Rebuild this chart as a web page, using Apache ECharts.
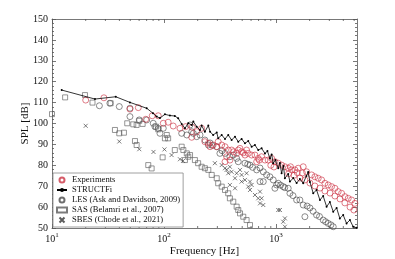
<!DOCTYPE html>
<html><head><meta charset="utf-8">
<script src="https://cdn.jsdelivr.net/npm/echarts@6/dist/echarts.min.js"></script>
<style>html,body{margin:0;padding:0;background:#fff}#c{width:395px;height:259px}</style>
</head><body><div id="c"></div>
<script>
// ---- data (frequency in Hz, SPL in dB) ----
const expFreq = [20.0,29.1,49.7,59.0,68.7,78.6,88.9,98.6,109,121,139,156,179,177,196,217,232,249,258,275,296,305,328,351,375,363,402,420,446,461,477,494,512,529,547,566,607,650,695,710,745,798,853,916,980,1049,1124,1203,1288,1380,1350,1479,1582,1753,1880,2083,2229,2387,2558,2739,2930,3141,3365,3600,3861,4130,4425,4742,5075,1641,1724,1815,2013,2229,2477,2739,3043,3365,3738,4130,4592,4970,351,388,673,900,960,1300,1450,1550];
const expSPL  = [111.2,112.3,106.9,107.6,102.0,103.7,103.7,100.1,100.6,98.8,97.7,98.5,98.2,93.4,96.1,97.7,91.3,90.5,88.9,89.7,88.9,91.3,89.7,88.9,87.3,84.1,87.3,86.5,85.7,87.3,88.1,86.5,86.0,84.9,87.3,85.7,84.9,84.9,83.3,82.5,84.1,82.5,82.5,83.3,81.7,81.0,80.1,79.3,78.6,77.8,79.3,77.8,78.6,79.3,76.9,75.4,74.5,73.8,73.0,71.4,70.6,69.8,69.0,67.4,66.6,65.0,64.2,63.4,61.8,73.9,76.3,73.0,71.5,70.1,69.1,67.7,66.7,65.3,63.9,62.0,60.0,58.6,81.7,82.5,81.7,80.0,79.2,76.0,75.2,76.5];

const strFreq = [12.2,24.2,37.1,49.7,70.1,79.8,86.1,92.1,102,113,125,134,144,154,165,177,183,196,210,217,232,249,258,275,296,305,328,351,375,402,431,461,494,529,566,607,650,695,745,798,840,884,916,946,990,1049,1086,1124,1167,1203,1288,1334,1429,1531,1637,1753,1871,1942,2013,2154,2307,2472,2644,2836,3034,3251,3484,3724,3990,4276,4581,4899,5260];
const strSPL  = [116.0,111.7,112.8,110.1,107.3,104.9,103.3,102.6,104.4,103.8,103.6,102.5,99.8,97.7,100.1,99.3,100.9,98.5,96.9,99.0,96.1,99.0,96.1,94.5,95.7,92.9,94.5,92.6,94.5,92.1,93.7,91.3,92.6,90.5,91.6,88.9,89.7,87.3,88.1,85.7,86.8,83.3,85.2,81.0,82.5,78.6,81.1,76.2,79.7,73.8,75.8,72.2,73.9,71.5,73.4,71.4,74.9,76.8,72.0,66.6,68.2,63.4,65.3,60.2,62.4,57.8,59.6,54.6,56.2,52.2,53.8,50.6,50.1];

const lesFreq = [26.5,32.9,39.9,49.7,49.7,60.2,70.1,80.2,83.1,88.9,92.1,98.6,144,160,171,177,183,196,210,232,249,258,270,296,316,330,351,388,416,446,461,529,560,587,620,673,721,771,826,884,946,1014,1049,1100,1162,1200,1288,1334,1420,1531,1637,1753,1900,2013,2150,2307,2450,2644,2780,2930,3100,3251,721,771,1815,980];
const lesSPL  = [108.5,109.7,108.1,107.3,103.3,101.7,101.7,100.1,98.5,97.7,95.3,97.7,95.3,94.5,99.3,96.1,95.3,93.7,94.5,92.1,89.7,90.7,89.5,88.9,85.7,87.0,85.7,84.1,84.9,83.3,81.7,81.0,80.5,80.1,79.0,77.8,78.7,76.9,75.4,74.5,73.0,70.6,71.4,70.5,69.8,69.3,69.0,66.6,65.5,63.4,63.4,61.0,60.5,59.6,58.0,56.2,55.5,53.8,53.0,52.2,51.5,50.6,72.2,72.2,55.4,69.0];

const sasFreq = [10,13.1,19.7,23.0,33.4,36.5,39.9,43.9,47.0,53.2,57.0,60.2,64.5,55.1,57.0,72.4,77.6,84.8,88.9,97.3,102,109,106,125,144,149,160,165,154,171,189,202,217,232,249,267,296,305,328,351,375,388,416,446,461,478,511,547,587];
const sasSPL  = [104.5,112.5,113.6,110.0,109.7,96.9,95.3,95.6,100.1,99.6,99.3,101.3,99.8,91.6,89.7,80.1,78.5,98.5,97.2,83.8,92.9,92.9,94.5,87.3,88.9,87.3,85.7,84.1,82.5,84.9,82.5,81.0,79.3,78.6,77.8,75.4,73.8,71.4,69.8,68.2,66.6,64.2,62.6,60.2,58.6,57.0,55.4,53.8,51.4];

const sbesFreq = [20.0,39.9,60.2,80.6,101,117,139,148,285,328,363,388,351,375,402,431,446,478,494,547,494,529,587,566,607,587,650,695,721,745,721,771,1049,1086,1162,1203,1203,388,431];
const sbesSPL  = [98.9,91.4,87.7,86.4,87.6,84.9,82.9,82.1,81.0,80.1,77.8,79.3,78.6,76.2,76.9,73.8,76.2,77.8,75.4,76.2,72.2,73.0,72.2,69.8,70.6,68.2,65.8,64.2,67.4,64.2,61.8,61.0,58.6,58.6,53.0,54.6,50.6,70.6,69.0];

const xMajorTicks = [10,100,1000];
const xMinorTicks = [20,30,40,50,60,70,80,90,200,300,400,500,600,700,800,900,2000,3000,4000,5000];
const seriesNames = ['Experiments','STRUCTFi','LES (Ask and Davidson, 2009)','SAS (Belamri et al., 2007)','SBES (Chode et al., 2021)'];

const FONT = 'Liberation Serif';
const AX = '#555';
const zip = (a,b) => a.map((v,i)=>[v,b[i]]);

const chart = echarts.init(document.getElementById('c'), null, {renderer:'canvas'});
const xCommon = {type:'log', logBase:10, min:10, max:5300, splitLine:{show:false},
  axisLine:{show:true,onZero:false,lineStyle:{color:AX,width:0.8}},
  axisTick:{show:true,inside:true,length:4,customValues:xMajorTicks,lineStyle:{color:AX,width:0.8}}};
const yCommon = {type:'value', min:50, max:150, interval:10, splitLine:{show:false},
  axisLine:{show:true,onZero:false,lineStyle:{color:AX,width:0.8}},
  axisTick:{show:true,inside:true,length:4,lineStyle:{color:AX,width:0.8}},
  minorTick:{show:true,splitNumber:5,length:2,lineStyle:{color:AX,width:0.8}}};

chart.setOption({
  animation:false,
  textStyle:{fontFamily:FONT},
  grid:{left:52,top:19,right:38,bottom:31,containLabel:false,outerBoundsMode:'none'},
  xAxis:[
    Object.assign({}, xCommon, {position:'bottom', name:'Frequency [Hz]', nameLocation:'middle', nameGap:18, nameMoveOverlap:false,
      nameTextStyle:{fontFamily:FONT,fontSize:11,color:'#111',verticalAlign:'top'},
      axisLabel:{margin:4, color:'#111', fontFamily:FONT, fontSize:10, customValues:xMajorTicks,
        formatter:function(v){const e=Math.round(Math.log10(v)); return '{b|10}{e|'+e+'}';},
        rich:{b:{fontFamily:FONT,fontSize:10,color:'#111'}, e:{fontFamily:FONT,fontSize:7,color:'#111',padding:[0,0,7,0]}}}}),
    Object.assign({}, xCommon, {position:'top', axisLabel:{show:false}})
  ],
  yAxis:[
    Object.assign({}, yCommon, {position:'left', name:'SPL [dB]', nameLocation:'middle', nameGap:21, nameRotate:90, nameMoveOverlap:false,
      nameTextStyle:{fontFamily:FONT,fontSize:11,color:'#111'},
      axisLabel:{margin:4, color:'#111', fontFamily:FONT, fontSize:10}}),
    Object.assign({}, yCommon, {position:'right', axisLabel:{show:false}})
  ],
  legend:{
    data:seriesNames, orient:'vertical', left:53, top:173, padding:[2,3,2,3], itemGap:0,
    itemWidth:10, itemHeight:5, backgroundColor:'#fff', borderColor:'#888', borderWidth:0.8, borderRadius:0,
    textStyle:{fontFamily:FONT,fontSize:8.6,color:'#111',lineHeight:10}
  },
  series:[
    {type:'custom', silent:true, clip:false, xAxisIndex:0, yAxisIndex:0, z:1,
      data:xMinorTicks.map(v=>[v,50]),
      renderItem:function(params,api){
        const v=api.value(0); const b=api.coord([v,50]); const t=api.coord([v,150]);
        return {type:'group',children:[
          {type:'line',shape:{x1:b[0],y1:b[1],x2:b[0],y2:b[1]-2},style:{stroke:AX,lineWidth:0.8}},
          {type:'line',shape:{x1:t[0],y1:t[1],x2:t[0],y2:t[1]+2},style:{stroke:AX,lineWidth:0.8}}]};
      }},
    {name:seriesNames[2], type:'scatter', data:zip(lesFreq,lesSPL), symbol:'circle', symbolSize:6, z:2,
      itemStyle:{color:'rgba(0,0,0,0)', borderColor:'#4a4a4a', borderWidth:0.8}},
    {name:seriesNames[3], type:'scatter', data:zip(sasFreq,sasSPL), symbol:'rect', symbolSize:5, z:2,
      itemStyle:{color:'rgba(0,0,0,0)', borderColor:'#5a5a5a', borderWidth:0.8}},
    {name:seriesNames[4], type:'scatter', data:zip(sbesFreq,sbesSPL), symbol:'path://M0,0L10,10M0,10L10,0', symbolSize:4, z:2,
      itemStyle:{color:'none', borderColor:'#333', borderWidth:0.8}},
    {name:seriesNames[0], type:'scatter', data:zip(expFreq,expSPL), symbol:'circle', symbolSize:6, z:3,
      itemStyle:{color:'rgba(0,0,0,0)', borderColor:'#cc3344', borderWidth:0.8}},
    {name:seriesNames[1], type:'line', data:zip(strFreq,strSPL), symbol:'circle', symbolSize:2, showSymbol:true, z:4,
      lineStyle:{color:'#000',width:0.8}, itemStyle:{color:'#000'}}
  ]
});
</script></body></html>
